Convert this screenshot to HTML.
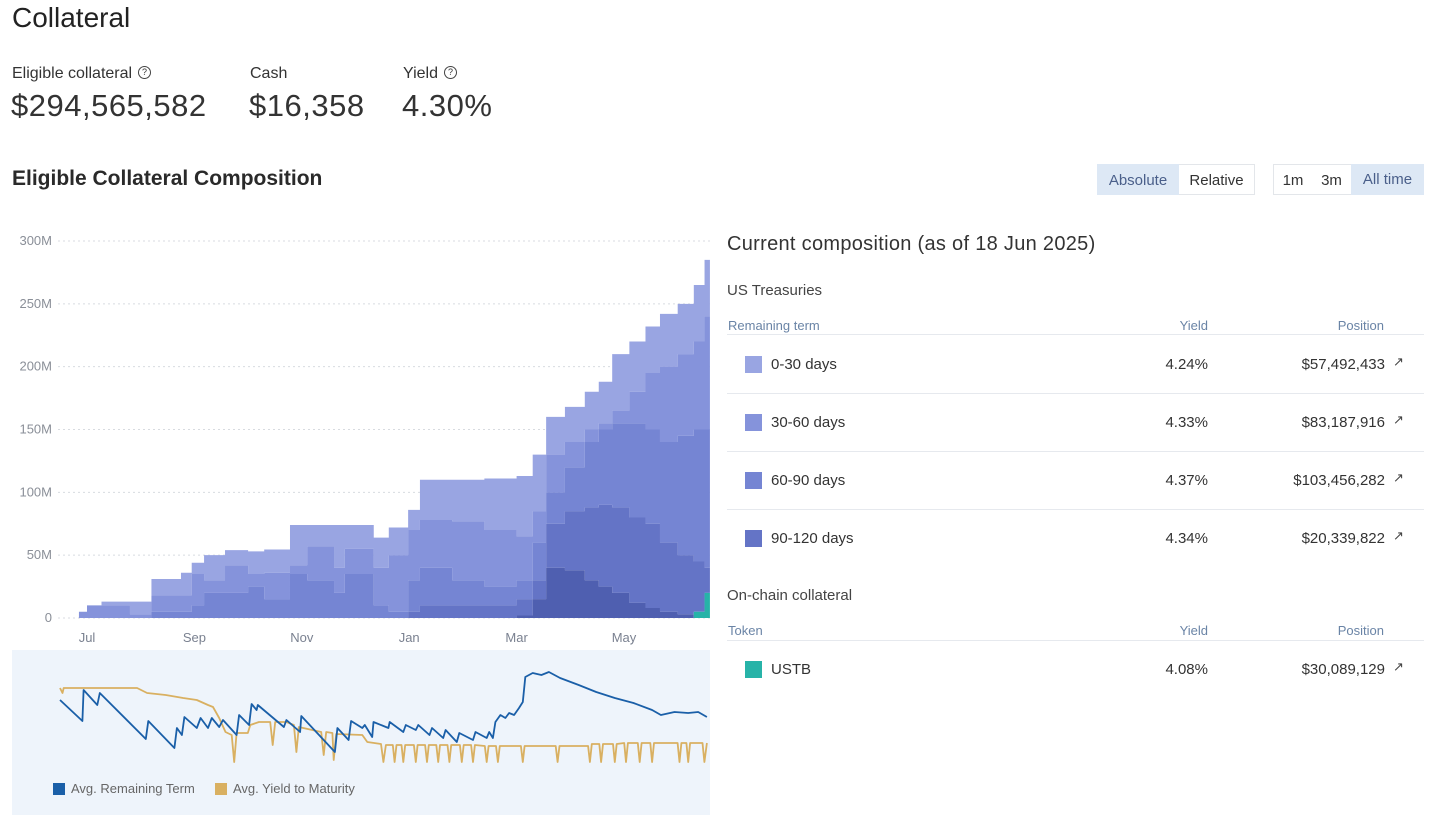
<!DOCTYPE html>
<html><head><meta charset="utf-8">
<style>
body{margin:0;width:1440px;height:832px;background:#fff;font-family:"Liberation Sans",sans-serif;color:#222;position:relative;overflow:hidden}
.a{position:absolute;white-space:nowrap}
.lbl{font-size:16px;color:#333}
.big{font-size:31px;color:#333;font-weight:300;letter-spacing:0.5px}
.q{display:inline-block;width:11px;height:11px;border:1.3px solid #444;border-radius:50%;font-size:9px;line-height:11px;text-align:center;vertical-align:3px;margin-left:6px}
.btn{position:absolute;top:164px;height:31px;line-height:31px;font-size:15px;text-align:center;color:#333;box-sizing:border-box}
.act{background:#dde8f5;color:#4a5f8a}
.hd{font-size:13px;color:#6a84a6}
.row{font-size:15px;color:#333}
.sw{position:absolute;width:17px;height:17px}
.sep{position:absolute;left:727px;width:697px;height:1px;background:#e6e9ee}
.arr{font-size:13px;color:#444}
</style></head><body>
<div class="a" style="left:12px;top:2px;font-size:28px;color:#222">Collateral</div>
<div class="a lbl" style="left:12px;top:65px">Eligible collateral<span class="q">?</span></div>
<div class="a big" style="left:11px;top:88px">$294,565,582</div>
<div class="a lbl" style="left:250px;top:65px">Cash</div>
<div class="a big" style="left:249px;top:88px">$16,358</div>
<div class="a lbl" style="left:403px;top:65px">Yield<span class="q">?</span></div>
<div class="a big" style="left:402px;top:88px">4.30%</div>
<div class="a" style="left:12px;top:167px;font-size:21px;font-weight:600;color:#2a2a2a">Eligible Collateral Composition</div>

<div class="btn act" style="left:1097px;width:82px;border:1px solid #dde8f5">Absolute</div>
<div class="btn" style="left:1179px;width:76px;border:1px solid #e3e6ea;border-left:none">Relative</div>
<div class="btn" style="left:1273px;width:39px;border:1px solid #e3e6ea;border-right:none">1m</div>
<div class="btn" style="left:1312px;width:39px;border-top:1px solid #e3e6ea;border-bottom:1px solid #e3e6ea">3m</div>
<div class="btn act" style="left:1351px;width:73px">All time</div>

<svg class="a" id="main" style="left:0;top:0" width="720" height="650"></svg>
<div class="a" style="left:12px;top:650px;width:698px;height:165px;background:#eef4fb"></div>
<svg class="a" id="low" style="left:0;top:0" width="720" height="832"></svg>
<div class="a" style="left:53px;top:781px;font-size:13px;color:#666"><span style="display:inline-block;width:12px;height:12px;background:#1a5fa8;vertical-align:-2px;margin-right:6px"></span>Avg. Remaining Term</div>
<div class="a" style="left:215px;top:781px;font-size:13px;color:#666"><span style="display:inline-block;width:12px;height:12px;background:#d9b061;vertical-align:-2px;margin-right:6px"></span>Avg. Yield to Maturity</div>

<div class="a" style="left:727px;top:233px;font-size:20px;color:#333;letter-spacing:0.3px">Current composition (as of 18 Jun 2025)</div>
<div class="a" style="left:727px;top:282px;font-size:15px;color:#444">US Treasuries</div>
<div class="a hd" style="left:728px;top:318px">Remaining term</div>
<div class="a hd" style="left:1160px;top:318px;width:48px;text-align:right">Yield</div>
<div class="a hd" style="left:1300px;top:318px;width:84px;text-align:right">Position</div>
<div class="sep" style="top:334px"></div>
<div id="rows"></div>
<div class="a" style="left:727px;top:587px;font-size:15px;color:#444">On-chain collateral</div>
<div class="a hd" style="left:728px;top:623px">Token</div>
<div class="a hd" style="left:1160px;top:623px;width:48px;text-align:right">Yield</div>
<div class="a hd" style="left:1300px;top:623px;width:84px;text-align:right">Position</div>
<div class="sep" style="top:640px"></div>

<script>
// ---- composition chart data (t in months from Jul 1, values in $M cumulative stack boundaries) ----
const months = [-0.3,-0.15,0,0.27,0.8,1.2,1.75,1.95,2.18,2.57,3.0,3.3,3.78,4.1,4.6,4.8,5.34,5.62,5.98,6.2,6.8,7.4,8.0,8.3,8.55,8.9,9.27,9.53,9.78,10.1,10.4,10.67,11.0,11.3,11.5,11.6];
const ustb = [0,0,0,0,0,0,0,0,0,0,0,0,0,0,0,0,0,0,0,0,0,0,0,0,0,0,0,0,0,0,0,0,0,5,20,25];
const top90_120 = [0,0,0,0,0,0,0,0,0,0,0,0,0,0,0,0,0,0,0,0,0,0,2,15,40,38,30,25,20,12,8,5,3,5,20,25];
const top60_90 = [0,0,0,0,0,0,0,0,0,0,0,0,0,0,0,0,0,0,5,10,10,10,15,30,75,85,88,90,88,80,75,60,50,45,40,40];
const top30_60 = [0,0,0,0,0,5,5,10,20,20,25,15,35,30,20,35,10,5,30,40,30,25,30,60,100,120,140,150,155,155,150,140,145,150,150,150];
const top0_30 = [0,5,10,10,3,18,18,35,30,42,35,36,42,57,40,55,40,50,70,78,77,70,65,85,130,140,150,155,165,180,195,200,210,220,240,235];
const totals = [0,5,10,13,13,31,36,44,50,54,53,54.5,74,74,74,74,64,72,86,110,110,111,113,130,160,168,180,188,210,220,232,242,250,265,285,295];
const yTicks = [0,50,100,150,200,250,300];
const yTickLabels = ["0","50M","100M","150M","200M","250M","300M"];
const xTicks = [0,2,4,6,8,10];
const xTickLabels = ["Jul","Sep","Nov","Jan","Mar","May"];

// ---- lower chart data (w in weeks, v = relative level) ----
const termWeeks = [0,1.8,1.9,3.0,3.2,6.9,7.1,9.2,9.4,9.8,10.0,11.0,11.3,11.9,12.2,12.8,13.1,14.2,14.4,15.2,15.4,15.8,15.9,18.0,18.2,19.3,19.4,22.1,22.3,23.2,23.4,24.3,24.5,25.1,25.2,26.4,26.5,27.6,27.8,28.6,28.8,29.7,29.9,30.8,31.0,31.9,32.1,33.2,33.4,34.3,34.5,34.8,35.0,35.4,35.8,36.1,36.5,36.9,37.2,37.4,38.0,38.7,39.3,40.2,41.7,43.1,44.6,46.1,47.6,48.3,49.4,50.5,51.3,52.0];
const termVals = [55,34,65,50,62,16,34,7,27,20,38,27,37,27,37,28,35,20,40,30,51,45,50,28,35,23,39,3,27,15,34,27,30,18,33,27,33,23,30,25,30,20,27,17,25,13,22,15,23,17,23,17,33,40,37,42,40,47,53,78,82,80,83,77,70,63,57,52,45,40,43,42,43,38];
const ytmWeeks = [0,0.2,0.3,6.2,7.0,8.5,9.9,11.0,11.9,12.3,12.8,13.3,13.8,14.0,14.2,15.1,15.3,16.0,16.9,17.1,17.3,18.2,18.8,19.0,19.2,21.0,21.2,21.4,21.9,22.0,22.2,24.3,24.7,25.8,26.0,26.2,26.75,26.9,27.05,27.45,27.6,27.75,28.45,28.6,28.75,29.35,29.5,29.65,30.25,30.4,30.55,31.15,31.3,31.45,32.15,32.3,32.45,33.05,33.2,33.35,34.15,34.3,34.45,35.05,35.2,35.35,37.05,37.2,37.35,39.85,40.0,40.15,42.45,42.6,42.75,43.35,43.5,43.65,44.45,44.6,44.75,45.35,45.5,45.65,46.45,46.6,46.75,47.45,47.6,47.75,49.65,49.8,49.95,50.35,50.5,50.65,51.65,51.8,52.0];
const ytmVals = [67,62,67,67,62,60,57,55,50,48,37,23,20,-7,22,22,30,33,33,10,33,33,30,3,28,23,0,23,22,-5,21,20,13,11,-7,10,10,-7,10,10,-7,10,10,-7,10,10,-7,10,10,-7,10,10,-7,10,10,-7,10,10,-7,10,9,-7,9,9,-7,9,9,-7,9,9,-7,9,9,-7,11,11,-7,11,11,-7,11,12,-7,12,12,-7,12,12,-7,12,12,-7,12,12,-7,12,12,-7,12];

const NS="http://www.w3.org/2000/svg";
function mk(svg,tag,attrs){const e=document.createElementNS(NS,tag);for(const k in attrs)e.setAttribute(k,attrs[k]);svg.appendChild(e);return e;}
const xS=t=>87+t*53.7;
const yS=v=>618-v*1.2567;
const main=document.getElementById('main');
yTicks.forEach((v,i)=>{
  const g=mk(main,'line',{x1:58,x2:710,y1:yS(v),y2:yS(v),stroke:'#d8dbe0','stroke-dasharray':'2,3'});
  
  
  const t=mk(main,'text',{x:52,y:yS(v)+4,'text-anchor':'end','font-size':13,fill:'#8a8f98','font-family':'Liberation Sans'});
  t.textContent=yTickLabels[i];
  
  
});
function stepPath(upper,lower){
  const n=months.length;let d='';
  for(let i=0;i<n;i++){const x=xS(months[i]);const xn=i<n-1?xS(months[i+1]):x;
    d+=(i?'L':'M')+x+','+yS(upper[i])+'L'+xn+','+yS(upper[i]);}
  for(let i=n-1;i>=0;i--){const x=xS(months[i]);const xn=i<n-1?xS(months[i+1]):x;
    d+='L'+xn+','+yS(lower[i])+'L'+x+','+yS(lower[i]);}
  return d+'Z';
}
const zero=months.map(()=>0);
const layers=[
 [totals,top0_30,'#99a5e2','area-0-30-days'],
 [top0_30,top30_60,'#8593db','area-30-60-days'],
 [top30_60,top60_90,'#7585d3','area-60-90-days'],
 [top60_90,top90_120,'#6474c6','area-90-120-days'],
 [top90_120,ustb,'#4f5fb0','area-older'],
 [ustb,zero,'#27b3a8','area-ustb']];
layers.forEach(l=>{
  const p=mk(main,'path',{d:stepPath(l[0],l[1]),fill:l[2]});
  
  
});
xTicks.forEach((m,i)=>{
  const t=mk(main,'text',{x:xS(m),y:642,'text-anchor':'middle','font-size':13,fill:'#7a8190','font-family':'Liberation Sans'});
  t.textContent=xTickLabels[i];
  
  
});
const low=document.getElementById('low');
const wx=w=>60+w*12.44;
const vy=v=>755-v;
function line(ws,vs,color,name){
  const d=ws.map((w,i)=>(i?'L':'M')+wx(w).toFixed(1)+','+vy(vs[i]).toFixed(1)).join('');
  const p=mk(low,'path',{d:d,fill:'none',stroke:color,'stroke-width':1.8,'stroke-linejoin':'round'});
  
  
}
line(ytmWeeks,ytmVals,'#d9b061','ytm-line');
line(termWeeks,termVals,'#1a5fa8','remaining-term-line');

// ---- composition table ----
const rowLabels=["0-30 days","30-60 days","60-90 days","90-120 days"];
const rowYields=["4.24%","4.33%","4.37%","4.34%"];
const rowPositions=["$57,492,433","$83,187,916","$103,456,282","$20,339,822"];
const rowColors=['#99a5e2','#8593db','#7585d3','#6474c6'];
const rows=document.getElementById('rows');
function addRow(y,label,yl,pos,color,name,sepAfter){
  const r=document.createElement('div');
  
  
  r.innerHTML=`<div class="sw" style="left:745px;top:${y-8}px;background:${color}"></div>
  <div class="a row" style="left:771px;top:${y-8}px">${label}</div>
  <div class="a row" style="left:1120px;top:${y-8}px;width:88px;text-align:right">${yl}</div>
  <div class="a row" style="left:1240px;top:${y-8}px;width:145px;text-align:right">${pos}</div>
  <div class="a arr" style="left:1393px;top:${y-10}px">&#8599;</div>`+(sepAfter?`<div class="sep" style="top:${y+29}px"></div>`:'');
  rows.appendChild(r);
}
rowLabels.forEach((l,i)=>addRow(364+i*58,l,rowYields[i],rowPositions[i],rowColors[i],'treasury-row',i<3));
addRow(669,"USTB","4.08%","$30,089,129",'#27b3a8','ustb-row',false);
</script>
</body></html>
